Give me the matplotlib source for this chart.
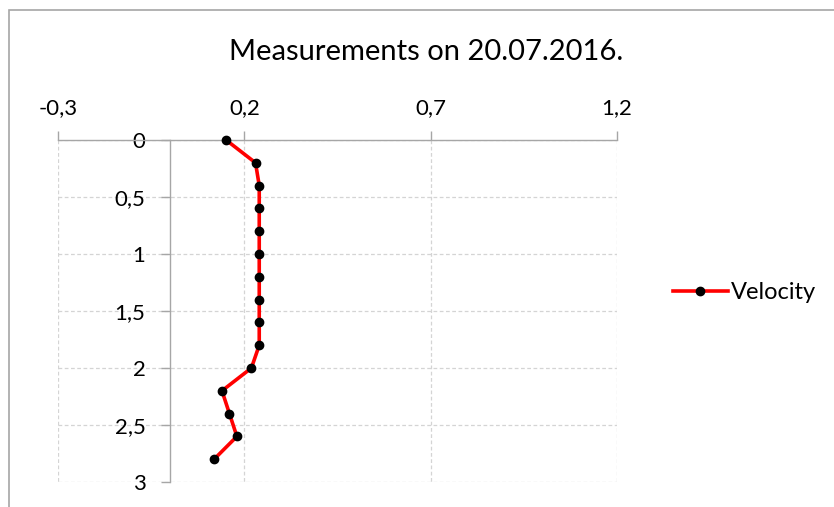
import matplotlib
matplotlib.use("Agg")
import matplotlib.pyplot as plt
from matplotlib.patches import Rectangle
from matplotlib.lines import Line2D

plt.rcParams['font.family'] = ['Lato', 'DejaVu Sans']

depth = [0.0, 0.2, 0.4, 0.6, 0.8, 1.0, 1.2, 1.4, 1.6, 1.8, 2.0, 2.2, 2.4, 2.6, 2.8]
velocity = [0.151, 0.230, 0.240, 0.240, 0.240, 0.240, 0.240, 0.240, 0.240, 0.240,
            0.219, 0.140, 0.160, 0.180, 0.119]
x_ticks = [-0.3, 0.2, 0.7, 1.2]
x_labels = ['-0,3', '0,2', '0,7', '1,2']
y_ticks = [0, 0.5, 1, 1.5, 2, 2.5, 3]
y_labels = ['0', '0,5', '1', '1,5', '2', '2,5', '3']

W, H = 834, 507
fig = plt.figure(figsize=(W / 100, H / 100), dpi=100)
ax = fig.add_axes([58 / W, 1 - 482 / H, (617 - 58) / W, (482 - 140) / H])

gray = '#a6a6a6'
grid = '#d4d4d4'

ax.plot(velocity, depth, color='#ff0000', lw=2.6, marker='o', ms=6,
        mfc='black', mec='black', zorder=5, label='Velocity', clip_on=False)

ax.set_xlim(-0.3, 1.2)
ax.set_ylim(3, 0)
ax.set_xticks(x_ticks)
ax.set_xticklabels(x_labels)
ax.set_yticks(y_ticks)
ax.set_yticklabels(y_labels)

for s in ['bottom', 'right']:
    ax.spines[s].set_visible(False)
ax.spines['top'].set_color(gray)
ax.spines['top'].set_linewidth(1.0)
ax.spines['left'].set_position(('data', 0))
ax.spines['left'].set_color(gray)
ax.spines['left'].set_linewidth(1.0)

ax.xaxis.tick_top()
ax.tick_params(axis='x', direction='out', length=6.5, width=1.0, color=gray,
               labelsize=16, pad=9, labelcolor='black')
ax.tick_params(axis='y', direction='out', length=6.5, width=1.0, color=gray,
               labelsize=16, pad=11, labelcolor='black')

for yv in y_ticks:
    ax.plot([-0.3, 1.2], [yv, yv], color=grid, lw=0.9, ls=(0, (3, 2)), zorder=0)
for xv in x_ticks:
    ax.plot([xv, xv], [0, 3], color=grid, lw=0.9, ls=(0, (3, 2)), zorder=0)

fig.suptitle('Measurements on 20.07.2016.', x=426 / W, y=1 - 52 / H,
             va='center', fontsize=21)

handle = Line2D([], [], color='#ff0000', lw=2.6, marker='o', ms=6,
                mfc='black', mec='black')
fig.legend([handle], ['Velocity'], loc='center left',
           bbox_to_anchor=(652 / W, 1 - 293 / H), frameon=False,
           fontsize=17, handlelength=2.3, handletextpad=0.15)

fig.patches.append(Rectangle((8.5 / W, -0.1), 1.2, 1 - 9.5 / H + 0.1,
                             transform=fig.transFigure, fill=False,
                             edgecolor=gray, lw=1.2))

fig.savefig('out.png', dpi=100)
